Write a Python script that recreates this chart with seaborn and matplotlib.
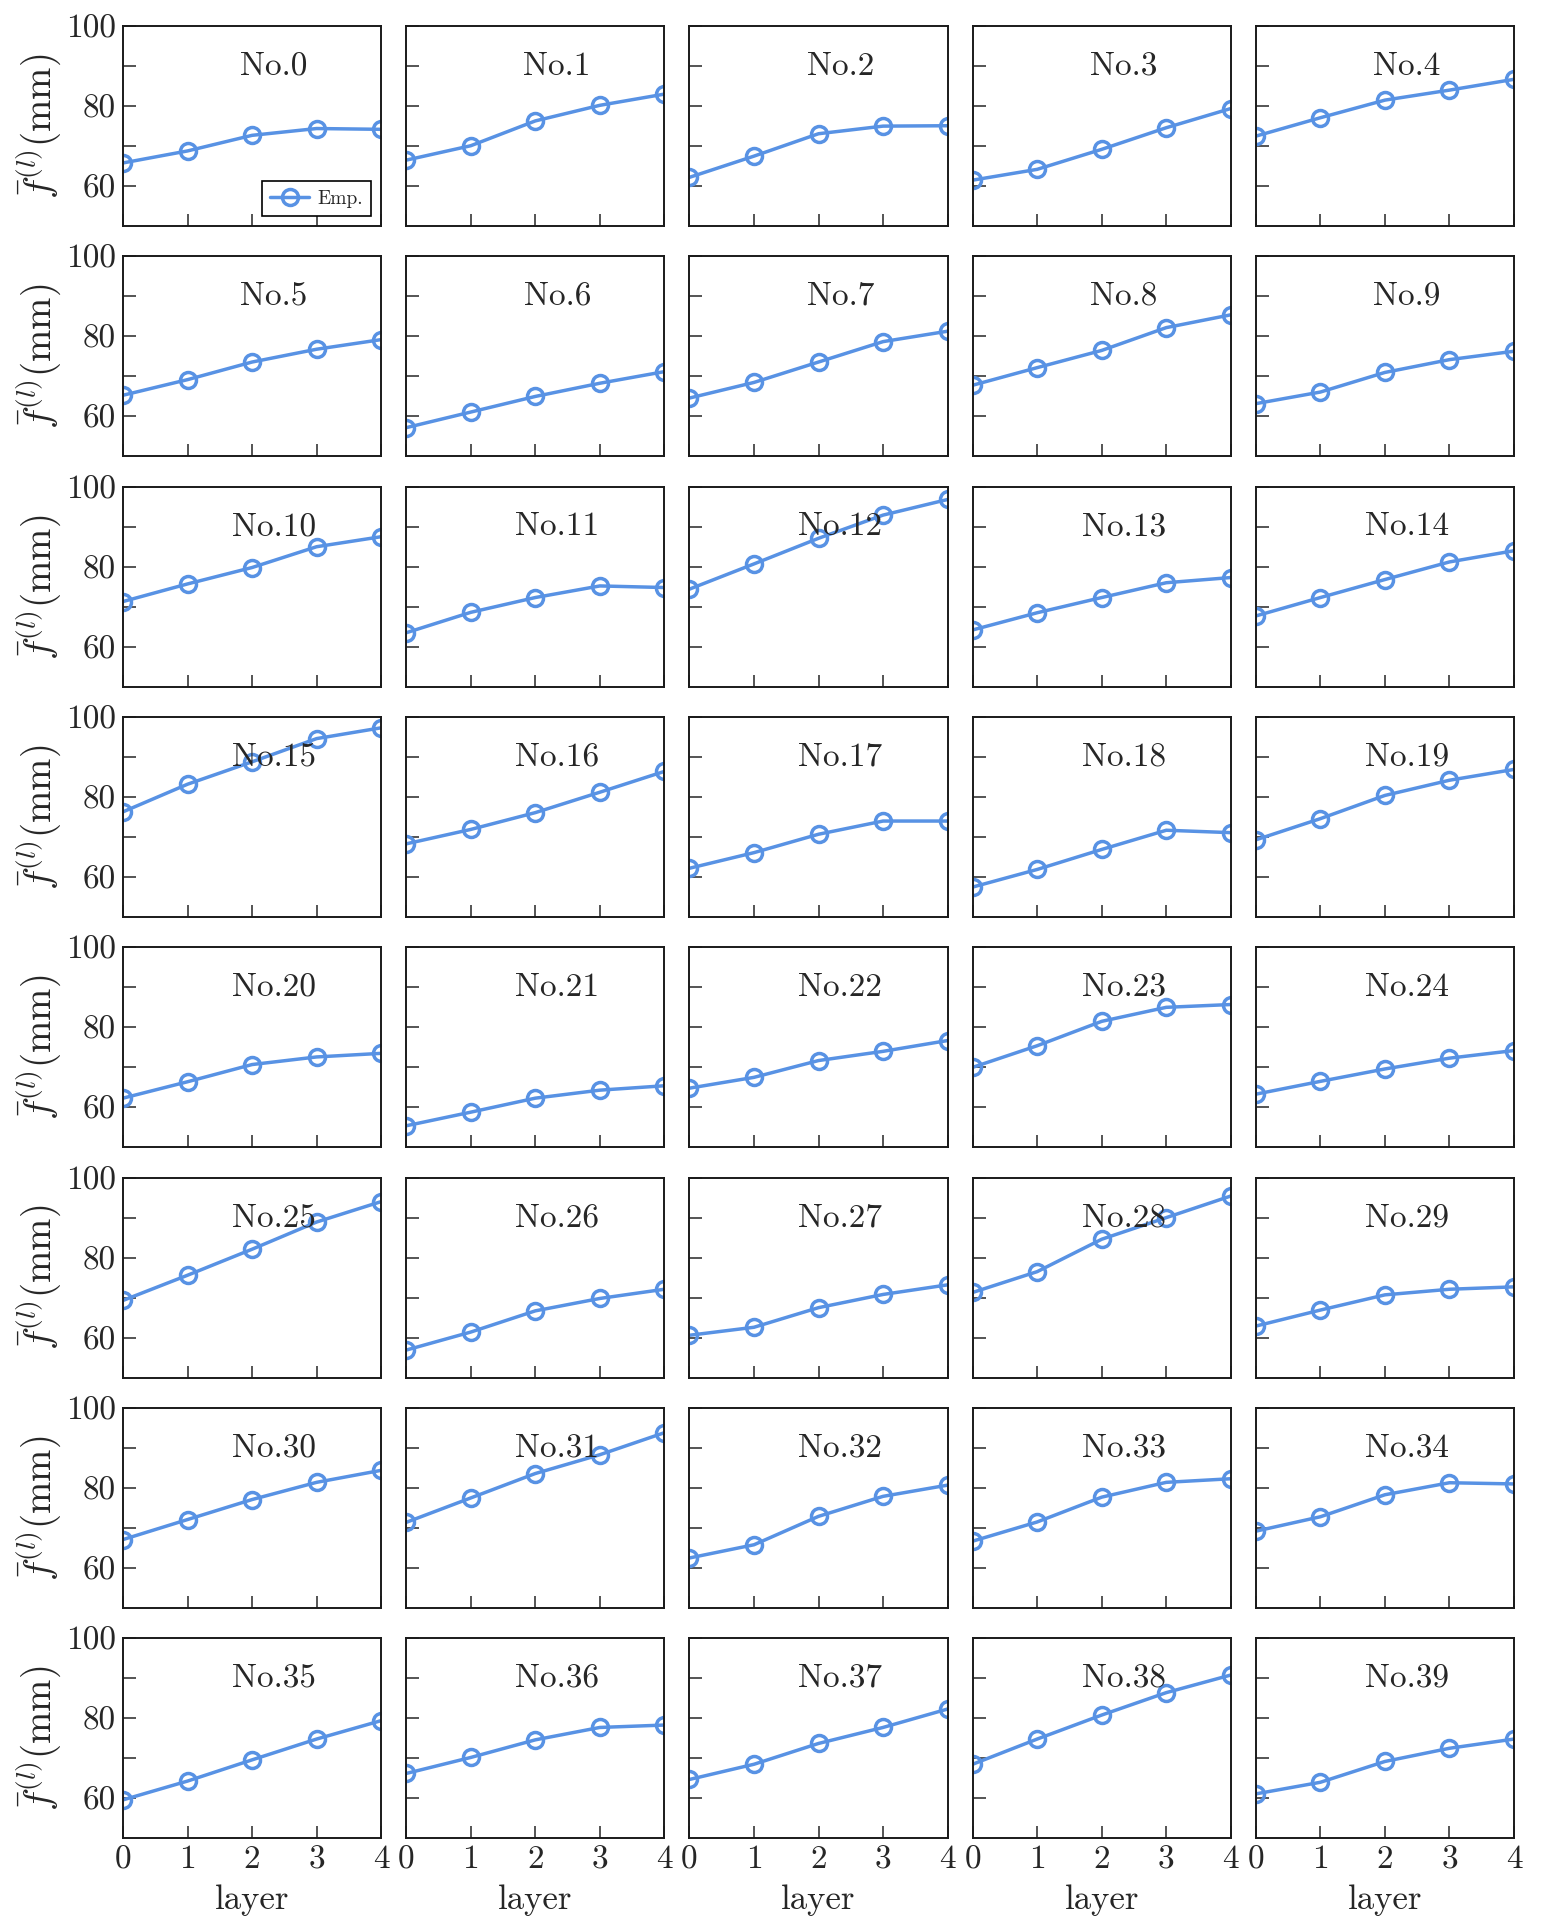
import numpy as np
import pandas as pd
import seaborn as sns
import matplotlib
matplotlib.use("Agg")
import matplotlib.pyplot as plt

# mean focal length per layer (No.0 ... No.39)
layers = [0, 1, 2, 3, 4]
f0 = [65.8, 68.8, 72.7, 74.4, 74.2]
f1 = [66.5, 70.1, 76.3, 80.2, 83.0]
f2 = [62.2, 67.5, 73.1, 75.0, 75.1]
f3 = [61.5, 64.2, 69.2, 74.6, 79.4]
f4 = [72.5, 77.1, 81.5, 84.0, 86.7]
f5 = [65.3, 69.2, 73.6, 76.8, 79.2]
f6 = [57.2, 61.1, 65.0, 68.3, 71.2]
f7 = [64.6, 68.5, 73.6, 78.7, 81.3]
f8 = [67.8, 72.2, 76.5, 82.2, 85.4]
f9 = [63.2, 66.1, 71.0, 74.2, 76.3]
f10 = [71.3, 75.7, 79.8, 85.0, 87.5]
f11 = [63.5, 68.6, 72.3, 75.2, 74.8]
f12 = [74.4, 80.7, 87.1, 92.9, 96.8]
f13 = [64.2, 68.5, 72.3, 76.0, 77.3]
f14 = [67.7, 72.3, 76.8, 81.2, 84.0]
f15 = [76.3, 83.2, 88.8, 94.6, 97.3]
f16 = [68.3, 71.9, 76.1, 81.2, 86.4]
f17 = [62.2, 66.1, 70.7, 74.0, 74.0]
f18 = [57.5, 61.9, 66.9, 71.7, 71.1]
f19 = [69.3, 74.6, 80.4, 84.2, 86.9]
f20 = [62.3, 66.4, 70.7, 72.6, 73.5]
f21 = [55.4, 58.8, 62.3, 64.3, 65.4]
f22 = [64.8, 67.5, 71.7, 74.0, 76.7]
f23 = [70.0, 75.4, 81.5, 85.0, 85.7]
f24 = [63.3, 66.5, 69.6, 72.3, 74.2]
f25 = [69.3, 75.6, 82.1, 88.9, 94.0]
f26 = [56.9, 61.4, 66.7, 69.8, 72.1]
f27 = [60.6, 62.6, 67.5, 70.8, 73.2]
f28 = [71.3, 76.5, 84.6, 90.0, 95.4]
f29 = [62.9, 66.9, 70.7, 72.1, 72.7]
f30 = [67.1, 72.1, 77.1, 81.4, 84.4]
f31 = [71.4, 77.5, 83.6, 88.3, 93.8]
f32 = [62.5, 65.8, 72.9, 77.9, 80.7]
f33 = [66.7, 71.5, 77.7, 81.4, 82.3]
f34 = [69.2, 72.8, 78.3, 81.3, 81.0]
f35 = [59.6, 64.3, 69.6, 74.8, 79.4]
f36 = [66.2, 70.2, 74.6, 77.7, 78.3]
f37 = [64.7, 68.5, 73.7, 77.7, 82.3]
f38 = [68.5, 74.8, 80.8, 86.4, 90.8]
f39 = [61.1, 64.0, 69.2, 72.5, 74.8]

series = [f0, f1, f2, f3, f4, f5, f6, f7, f8, f9,
          f10, f11, f12, f13, f14, f15, f16, f17, f18, f19,
          f20, f21, f22, f23, f24, f25, f26, f27, f28, f29,
          f30, f31, f32, f33, f34, f35, f36, f37, f38, f39]
names = ["No.{}".format(i) for i in range(len(series))]

yticks = [60, 70, 80, 90, 100]
ytick_labels = ["60", "", "80", "", "100"]

sns.set_style("ticks")
plt.rcParams["font.family"] = ["cmr10"]
plt.rcParams["mathtext.fontset"] = "cm"
plt.rcParams["axes.formatter.use_mathtext"] = True

color = "#5892e4"
fs = 24

fig, axarr = plt.subplots(8, 5, figsize=(15.41, 19.32), dpi=100)
plt.subplots_adjust(left=0.0798, right=0.9825, top=0.9865, bottom=0.0485,
                    wspace=0.097, hspace=0.151)

for i, vals in enumerate(series):
    r, c = i // 5, i % 5
    ax = axarr[r][c]
    df = pd.DataFrame({"layer": layers, "f": vals})
    sns.lineplot(data=df, x="layer", y="f", ax=ax, color=color,
                 marker="o", markersize=11.5, markerfacecolor="none",
                 markeredgecolor=color, markeredgewidth=2.5, linewidth=2.5,
                 label="Emp." if i == 0 else None, legend=False)
    ax.set_xlim(0, 4)
    ax.set_ylim(50, 100)
    ax.set_xticks(layers)
    ax.set_yticks(yticks)
    ax.tick_params(direction="in", length=9, width=1.1, labelsize=fs, pad=5)
    for sp in ax.spines.values():
        sp.set_linewidth(1.4)
        sp.set_color("#1a1a1a")
    ax.text(0.585, 0.8, names[i], transform=ax.transAxes, ha="center",
            va="center", fontsize=fs)
    if c == 0:
        ax.set_yticklabels(ytick_labels)
        ax.set_ylabel(r"$\bar{f}^{(l)}(\mathrm{mm})$", fontsize=28, labelpad=2)
    else:
        ax.set_yticklabels([])
        ax.set_ylabel("")
    if r == 7:
        ax.set_xticklabels([str(x) for x in layers])
        ax.set_xlabel("layer", fontsize=25, labelpad=7)
    else:
        ax.set_xticklabels([])
        ax.set_xlabel("")

leg = axarr[0][0].legend(loc="lower right", fontsize=14, fancybox=False,
                         framealpha=1, edgecolor="black", handlelength=2.0,
                         borderaxespad=0.5, borderpad=0.45, handletextpad=0.4)
leg.get_frame().set_linewidth(1.2)

plt.savefig("out.png", dpi=100)
